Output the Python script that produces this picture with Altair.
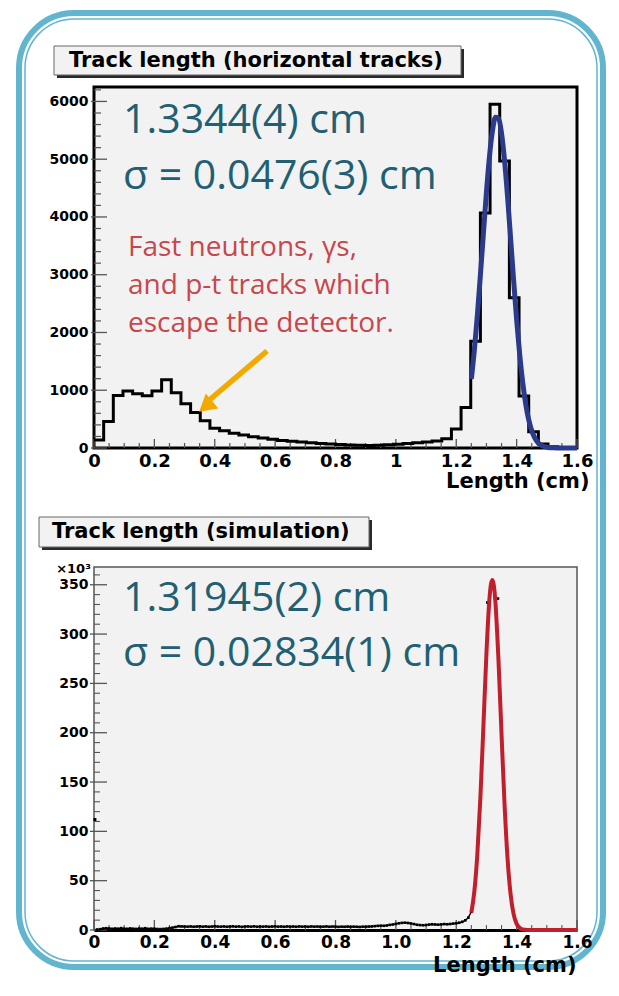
import altair as alt
import pandas as pd

# ---------------- data ----------------
# measured (horizontal tracks) histogram: 50 bins of 0.032 cm from 0 to 1.6
top_bin_width = 0.032
top_hist_counts = [140, 460, 910, 985, 940, 905, 985, 1180, 955, 765,
                   615, 470, 340, 300, 255, 225, 195, 172, 150, 130,
                   118, 105, 92, 80, 70, 60, 52, 47, 45, 48,
                   55, 65, 78, 92, 105, 120, 160, 330, 700, 1850,
                   4070, 5950, 4970, 2600, 900, 280, 70, 20, 5, 2]

fit_top_x = [1.25, 1.26, 1.27, 1.28, 1.29, 1.30, 1.31, 1.32, 1.33, 1.34,
             1.35, 1.36, 1.37, 1.38, 1.39, 1.40, 1.41, 1.42, 1.43, 1.44,
             1.45, 1.46, 1.47, 1.48, 1.50, 1.52, 1.55, 1.60]
fit_top_y = [1194, 1695, 2302, 2992, 3721, 4429, 5042, 5493, 5725, 5710,
             5449, 4976, 4347, 3634, 2907, 2225, 1629, 1141, 765, 491,
             301, 177, 99, 53, 14, 3, 0, 0]

# simulation (x10^3 counts), sampled every 0.01 cm from 0.01 to 1.25
sim_first_x = [0.003]
sim_first_y = [112]
sim_y = [0.5, 0.8, 1.5, 1.8, 1.6, 1.2, 1.5, 1.3, 1.9,
         1.4, 1.2, 1.6, 1.3, 1.1, 1.5, 1.3, 1.8, 1.2, 1.4,
         1.3, 1.0, 0.9, 1.1, 1.4, 1.9, 2.4, 3.0, 3.8, 3.6,
         3.5, 3.4, 3.6, 3.3, 3.5, 3.7, 3.4, 3.6, 3.3, 3.5,
         3.8, 3.5, 3.4, 3.6, 3.3, 3.5, 3.7, 3.4, 3.6, 3.2,
         3.5, 3.6, 3.4, 3.7, 3.3, 3.5, 3.4, 3.6, 3.3, 3.5,
         3.7, 3.4, 3.5, 3.3, 3.6, 3.4, 3.5, 3.3, 3.6, 3.4,
         3.5, 3.3, 3.6, 3.4, 3.5, 3.3, 3.4, 3.6, 3.3, 3.5,
         3.4, 3.2, 3.4, 3.3, 3.5, 3.2, 3.4, 3.3, 3.1, 3.4,
         3.3, 3.5, 3.6, 3.9, 4.2, 4.4, 4.3, 4.6, 5.2, 5.6,
         6.2, 6.8, 7.2, 7.4, 7.1, 6.6, 6.0, 5.3, 5.0, 4.8,
         5.1, 5.5, 5.8, 5.6, 5.4, 5.7, 6.0, 5.8, 6.1, 6.5,
         6.8, 7.4, 8.3, 9.8, 12.5, 18.5]
sim_x = [round(0.01 * (i + 1), 2) for i in range(len(sim_y))]
sim_peak_x = [1.303, 1.338]
sim_peak_y = [332, 336]

fit_sim_x = [1.25, 1.26, 1.27, 1.28, 1.29, 1.30, 1.31, 1.315, 1.32, 1.325,
             1.33, 1.34, 1.35, 1.36, 1.37, 1.38, 1.39, 1.40, 1.41, 1.42,
             1.45, 1.60]
fit_sim_y = [17.7, 39.3, 77.5, 134.7, 206.9, 280.5, 335.8, 350.6, 354.9, 348.3,
             331.2, 272.9, 198.6, 127.5, 72.3, 36.2, 16.0, 6.2, 2.2, 0.6,
             0, 0]

# axis ticks
x_major = [0, 0.2, 0.4, 0.6, 0.8, 1.0, 1.2, 1.4, 1.6]
x_minor = [0.05, 0.1, 0.15, 0.25, 0.3, 0.35, 0.45, 0.5, 0.55, 0.65, 0.7, 0.75,
           0.85, 0.9, 0.95, 1.05, 1.1, 1.15, 1.25, 1.3, 1.35, 1.45, 1.5, 1.55]
top_y_major = [0, 1000, 2000, 3000, 4000, 5000, 6000]
top_y_minor = [200, 400, 600, 800, 1200, 1400, 1600, 1800, 2200, 2400, 2600, 2800,
               3200, 3400, 3600, 3800, 4200, 4400, 4600, 4800, 5200, 5400, 5600,
               5800, 6200]
sim_y_major = [0, 50, 100, 150, 200, 250, 300, 350]
sim_y_minor = [10, 20, 30, 40, 60, 70, 80, 90, 110, 120, 130, 140, 160, 170, 180,
               190, 210, 220, 230, 240, 260, 270, 280, 290, 310, 320, 330, 340, 360]

# texts
top_title = "Track length (horizontal tracks)"
sim_title = "Track length (simulation)"
top_fit_lines = ["1.3344(4) cm", "σ = 0.0476(3) cm"]
note_lines = ["Fast neutrons, γs,", "and p-t tracks which", "escape the detector."]
sim_fit_lines = ["1.31945(2) cm", "σ = 0.02834(1) cm"]

# ---------------- styling ----------------
W = 483
H1 = 361
H2 = 363
BG = "#f2f2f2"
TEAL = "#215f72"
RED_TXT = "#c8464c"
ORANGE = "#f2aa00"
BLUE = "#2c3a8c"
RED_FIT = "#c01f2b"
BORDER = "#62b5cf"
TICK = "#555555"
ROOT_FONT = "DejaVu Sans"


def one():
    return pd.DataFrame({"d": [0]})


def vrect(x, x2, y, y2, **kw):
    return alt.Chart(one()).mark_rect(**kw).encode(
        x=alt.value(x), x2=alt.value(x2), y=alt.value(y), y2=alt.value(y2))


def vtext(s, x, y, **kw):
    return alt.Chart(one()).mark_text(**kw).encode(
        x=alt.value(x), y=alt.value(y), text=alt.value(s))


xscale_top = alt.Scale(domain=[0, 1.6], nice=False, zero=False)
yscale_top = alt.Scale(domain=[0, 6250], nice=False)
xscale_sim = alt.Scale(domain=[0, 1.6], nice=False, zero=False)
yscale_sim = alt.Scale(domain=[0, 368], nice=False)

xaxis_top = alt.Axis(values=x_major, format="~g", title="Length (cm)",
                     labelFont=ROOT_FONT, labelFontWeight="bold", labelFontSize=18,
                     labelColor="black", labelPadding=4, labelFlush=False,
                     labelOverlap=False, ticks=False, domain=False, grid=False,
                     titleFont=ROOT_FONT, titleFontWeight="bold", titleFontSize=21,
                     titleColor="black", titleAlign="right", titleBaseline="alphabetic",
                     titleX=W + 12, titleY=39)
yaxis_top = alt.Axis(values=top_y_major, format="d", title=None,
                     labelFont=ROOT_FONT, labelFontWeight="bold", labelFontSize=14,
                     labelColor="black", labelPadding=6, labelFlush=False,
                     labelOverlap=False, ticks=False, domain=False, grid=False)
xaxis_sim = alt.Axis(values=x_major, title="Length (cm)",
                     labelExpr="datum.value == 0 ? '0' : format(datum.value, '.1f')",
                     labelFont=ROOT_FONT, labelFontWeight="bold", labelFontSize=17,
                     labelColor="black", labelPadding=4, labelFlush=False,
                     labelOverlap=False, ticks=False, domain=True, domainColor="black",
                     domainWidth=3, grid=False,
                     titleFont=ROOT_FONT, titleFontWeight="bold", titleFontSize=21,
                     titleColor="black", titleAlign="right", titleBaseline="alphabetic",
                     titleX=W - 1, titleY=41)
yaxis_sim = alt.Axis(values=sim_y_major, format="d", title="×10³",
                     labelFont=ROOT_FONT, labelFontWeight="bold", labelFontSize=14,
                     labelColor="black", labelPadding=6, labelFlush=False,
                     labelOverlap=False, ticks=False, domain=False, grid=False,
                     titleFont=ROOT_FONT, titleFontWeight="bold", titleFontSize=13,
                     titleColor="black", titleAngle=0, titleAlign="center",
                     titleBaseline="alphabetic", titleX=-21, titleY=5)


def XT():
    return alt.X("x:Q", scale=xscale_top, axis=xaxis_top)


def YT():
    return alt.Y("y:Q", scale=yscale_top, axis=yaxis_top)


def XS():
    return alt.X("x:Q", scale=xscale_sim, axis=xaxis_sim)


def YS():
    return alt.Y("y:Q", scale=yscale_sim, axis=yaxis_sim)


# ---------------- top panel ----------------
border_outer = vrect(-75, W + 26, -74, 880, fillOpacity=0, stroke=BORDER,
                     strokeWidth=6, cornerRadius=55)
border_inner = vrect(-69, W + 20, -68, 874, fillOpacity=0, stroke=BORDER,
                     strokeWidth=1.5, cornerRadius=49)

top_shadow = vrect(-37, 370, -38, -9, color="#2a2a2a")
top_box = vrect(-40, 367, -41, -12, fill=BG, stroke="#666666", strokeWidth=1)
top_title_txt = vtext(top_title, -25, -26.5, align="left", baseline="middle",
                      font=ROOT_FONT, fontWeight="bold", fontSize=21, color="black")

hist_df = pd.DataFrame({
    "x": [round(i * top_bin_width, 3) for i in range(len(top_hist_counts))] + [1.6],
    "y": top_hist_counts + [top_hist_counts[-1]],
})
hist = alt.Chart(hist_df).mark_line(interpolate="step-after", color="black",
                                    strokeWidth=3).encode(x=XT(), y=YT())
fit_top = alt.Chart(pd.DataFrame({"x": fit_top_x, "y": fit_top_y})).mark_line(
    interpolate="monotone", color=BLUE, strokeWidth=5).encode(x=XT(), y=YT())

t_xmaj = alt.Chart(pd.DataFrame({"x": x_major})).mark_rule(color=TICK, strokeWidth=1.3).encode(
    x=XT(), y=alt.value(H1), y2=alt.value(H1 - 9))
t_xmin = alt.Chart(pd.DataFrame({"x": x_minor})).mark_rule(color=TICK, strokeWidth=1.2).encode(
    x=XT(), y=alt.value(H1), y2=alt.value(H1 - 5))
t_ymaj = alt.Chart(pd.DataFrame({"y": top_y_major})).mark_rule(color=TICK, strokeWidth=1.3).encode(
    y=YT(), x=alt.value(-3), x2=alt.value(13))
t_ymin = alt.Chart(pd.DataFrame({"y": top_y_minor})).mark_rule(color=TICK, strokeWidth=1.2).encode(
    y=YT(), x=alt.value(0), x2=alt.value(7))

teal_kw = dict(align="left", baseline="alphabetic", font="Open Sans", fontSize=41, color=TEAL)
red_kw = dict(align="left", baseline="alphabetic", font="Open Sans", fontSize=28, color=RED_TXT)
top_t1 = vtext(top_fit_lines[0], 29, 46, **teal_kw)
top_t2 = vtext(top_fit_lines[1], 29, 102, **teal_kw)
note1 = vtext(note_lines[0], 34, 169, **red_kw)
note2 = vtext(note_lines[1], 34, 207, **red_kw)
note3 = vtext(note_lines[2], 34, 245, **red_kw)

arrow_shaft = alt.Chart(one()).mark_rule(color=ORANGE, strokeWidth=5.5).encode(
    x=alt.value(173), y=alt.value(264), x2=alt.value(113), y2=alt.value(315))
arrow_head = alt.Chart(one()).mark_point(shape="triangle-up", size=380, filled=True,
                                         color=ORANGE, opacity=1, angle=230).encode(
    x=alt.value(111.6), y=alt.value(319.4))

top = alt.layer(
    border_outer, border_inner, top_shadow, top_box, top_title_txt,
    t_xmaj, t_xmin, t_ymaj, t_ymin,
    hist, fit_top,
    top_t1, top_t2, note1, note2, note3,
    arrow_shaft, arrow_head,
).properties(width=W, height=H1,
             view=alt.ViewBackground(fill=BG, stroke="black", strokeWidth=3))

# ---------------- bottom panel ----------------
sim_shadow = vrect(-52, 278, -47, -17, color="#2a2a2a")
sim_box = vrect(-55, 275, -50, -20, fill=BG, stroke="#666666", strokeWidth=1)
sim_title_txt = vtext(sim_title, -42, -35, align="left", baseline="middle",
                      font=ROOT_FONT, fontWeight="bold", fontSize=21, color="black")

s_xmaj = alt.Chart(pd.DataFrame({"x": x_major})).mark_rule(color=TICK, strokeWidth=1.3).encode(
    x=XS(), y=alt.value(H2), y2=alt.value(H2 - 10))
s_xmin = alt.Chart(pd.DataFrame({"x": x_minor})).mark_rule(color=TICK, strokeWidth=1.1).encode(
    x=XS(), y=alt.value(H2), y2=alt.value(H2 - 5))
s_ymaj = alt.Chart(pd.DataFrame({"y": sim_y_major})).mark_rule(color=TICK, strokeWidth=1.3).encode(
    y=YS(), x=alt.value(-4), x2=alt.value(13))
s_ymin = alt.Chart(pd.DataFrame({"y": sim_y_minor})).mark_rule(color=TICK, strokeWidth=1.1).encode(
    y=YS(), x=alt.value(0), x2=alt.value(6))

sim_df = pd.DataFrame({"x": sim_x, "y": sim_y})
sim_line = alt.Chart(sim_df).mark_line(color="black", strokeWidth=1.4).encode(x=XS(), y=YS())
sim_pts = alt.Chart(sim_df).mark_square(color="black", size=7, opacity=1).encode(x=XS(), y=YS())
sim_first = alt.Chart(pd.DataFrame({"x": sim_first_x, "y": sim_first_y})).mark_square(
    color="black", size=9, opacity=1).encode(x=XS(), y=YS())
sim_peak = alt.Chart(pd.DataFrame({"x": sim_peak_x, "y": sim_peak_y})).mark_square(
    color="black", size=7, opacity=1).encode(x=XS(), y=YS())
fit_sim = alt.Chart(pd.DataFrame({"x": fit_sim_x, "y": fit_sim_y})).mark_line(
    interpolate="monotone", color=RED_FIT, strokeWidth=4).encode(x=XS(), y=YS())

sim_t1 = vtext(sim_fit_lines[0], 29, 44, **teal_kw)
sim_t2 = vtext(sim_fit_lines[1], 29, 99, **teal_kw)

bottom = alt.layer(
    sim_shadow, sim_box, sim_title_txt,
    s_xmaj, s_xmin, s_ymaj, s_ymin,
    sim_line, sim_pts, sim_first, sim_peak, fit_sim,
    sim_t1, sim_t2,
).properties(width=W, height=H2,
             view=alt.ViewBackground(fill=BG, stroke="#555555", strokeWidth=1.5))

chart = alt.vconcat(top, bottom, spacing=119, bounds="flush").properties(
    padding={"left": 6, "top": 0, "right": 0, "bottom": 0},
    background="white",
)

chart.save("out.html", embed_options={"renderer": "svg", "actions": False})
